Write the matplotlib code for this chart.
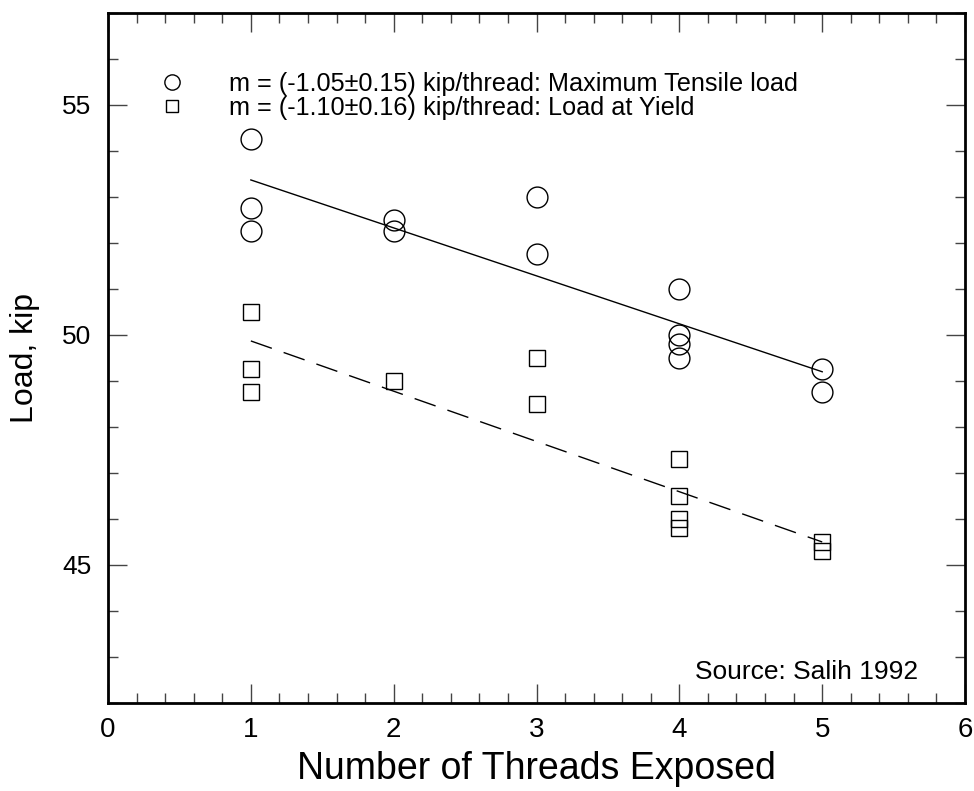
import matplotlib.pyplot as plt
from matplotlib.lines import Line2D
from matplotlib.ticker import MultipleLocator

plt.rcParams['font.family'] = ['Liberation Sans', 'DejaVu Sans']

# maximum tensile load (circles)
max_threads = [1, 1, 1, 2, 2, 3, 3, 4, 4, 4, 4, 5, 5]
max_load = [54.25, 52.75, 52.25, 52.5, 52.25, 53.0, 51.75, 51.0, 50.0, 49.8, 49.5, 49.25, 48.75]

# load at yield (squares)
yield_threads = [1, 1, 1, 2, 3, 3, 4, 4, 4, 4, 5, 5]
yield_load = [50.5, 49.25, 48.75, 49.0, 49.5, 48.5, 47.3, 46.5, 46.0, 45.8, 45.5, 45.3]

# fitted lines, end points
fit_x = [1, 5]
fit_max = [53.37, 49.2]
fit_yield = [49.87, 45.5]

labels = ['m = (-1.05\u00b10.15) kip/thread: Maximum Tensile load',
          'm = (-1.10\u00b10.16) kip/thread: Load at Yield']

fig = plt.figure(figsize=(9.74, 7.91), dpi=100)
ax = fig.add_axes([0.1109, 0.1113, 0.8799, 0.8723])

ax.plot(fit_x, fit_max, color='black', lw=1)
ax.plot(fit_x, fit_yield, color='black', lw=1, dashes=(16, 9))
ax.plot(max_threads, max_load, 'o', ms=15, mfc='none', mec='black', mew=1)
ax.plot(yield_threads, yield_load, 's', ms=11, mfc='none', mec='black', mew=1)

handles = [Line2D([], [], ls='none', marker='o', ms=11, mfc='none', mec='black', mew=1),
           Line2D([], [], ls='none', marker='s', ms=8.5, mfc='none', mec='black', mew=1)]
ax.legend(handles, labels, loc='upper left', bbox_to_anchor=(0.026, 0.948),
          frameon=False, fontsize=18.2, labelspacing=0.0, handletextpad=1.5,
          handlelength=1.5)

ax.text(0.945, 0.045, 'Source: Salih 1992', transform=ax.transAxes,
        ha='right', va='center', fontsize=19)

ax.set_xlim(0, 6)
ax.set_ylim(42, 57)
ax.xaxis.set_major_locator(MultipleLocator(1))
ax.xaxis.set_minor_locator(MultipleLocator(0.2))
ax.yaxis.set_major_locator(MultipleLocator(5))
ax.yaxis.set_minor_locator(MultipleLocator(1))
ax.tick_params(which='both', direction='in', top=True, right=True, width=1, color='#444444')
ax.tick_params(which='major', length=14)
ax.tick_params(which='minor', length=7)
ax.tick_params(axis='x', labelsize=20, pad=10)
ax.tick_params(axis='y', labelsize=19, pad=12)
for s in ax.spines.values():
    s.set_linewidth(2)

ax.set_xlabel('Number of Threads Exposed', fontsize=27, labelpad=6)
ax.set_ylabel('Load, kip', fontsize=23, labelpad=16)

fig.savefig('out.png', dpi=100)
